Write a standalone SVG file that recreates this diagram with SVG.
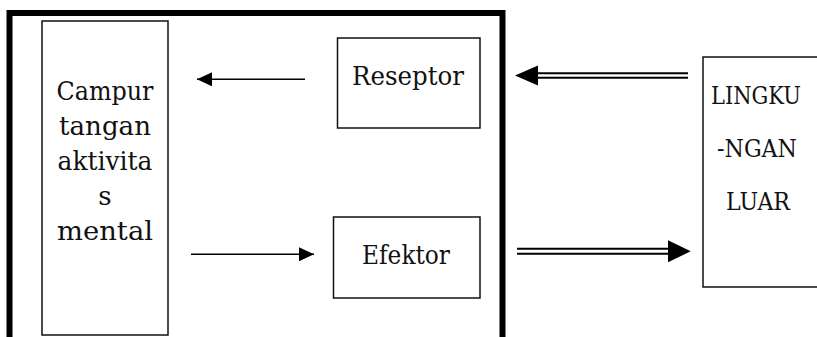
<svg xmlns="http://www.w3.org/2000/svg" width="817" height="337" viewBox="0 0 817 337">
<style>
  .box { fill: #fff; stroke: #111; stroke-width: 1.5; }
  .lbl { font-family: "DejaVu Serif", "Liberation Serif", serif; font-size: 26px; fill: #111; text-anchor: middle; }
  .cap { font-size: 24px; }
  .ln { stroke: #000; stroke-width: 1.5; fill: none; }
  .dl { stroke: #000; stroke-width: 2; fill: none; }
  .head { fill: #000; stroke: none; }
</style>
<defs>
  <marker id="arr" markerUnits="userSpaceOnUse" markerWidth="15" markerHeight="14" refX="15" refY="7" orient="auto">
    <path d="M0,0 L15,7 L0,14 z" fill="#000"/>
  </marker>
</defs>
<rect x="0" y="0" width="817" height="337" fill="#fff"/>
<g id="frame">
  <path d="M9.5,337 V13 H502.5 V337" fill="none" stroke="#000" stroke-width="6"/>
</g>
<g id="mental">
  <rect class="box" x="42" y="21" width="126" height="314"/>
  <text class="lbl" x="105" y="100" textLength="97" lengthAdjust="spacingAndGlyphs">Campur</text>
  <text class="lbl" x="105" y="135" textLength="92" lengthAdjust="spacingAndGlyphs">tangan</text>
  <text class="lbl" x="105" y="170" textLength="95" lengthAdjust="spacingAndGlyphs">aktivita</text>
  <text class="lbl" x="105" y="205">s</text>
  <text class="lbl" x="105" y="240" textLength="96" lengthAdjust="spacingAndGlyphs">mental</text>
</g>
<g id="reseptor">
  <rect class="box" x="337.5" y="38" width="142.5" height="90"/>
  <text class="lbl" x="408" y="84.5" textLength="112" lengthAdjust="spacingAndGlyphs">Reseptor</text>
</g>
<g id="efektor">
  <rect class="box" x="333.5" y="217" width="146.5" height="81"/>
  <text class="lbl" x="406" y="263.5" textLength="88" lengthAdjust="spacingAndGlyphs">Efektor</text>
</g>
<g id="lingkungan">
  <path class="box" d="M817,57 H703 V287 H817"/>
  <text class="lbl cap" x="756" y="104" textLength="90" lengthAdjust="spacingAndGlyphs">LINGKU</text>
  <text class="lbl cap" x="757" y="157" textLength="80" lengthAdjust="spacingAndGlyphs">-NGAN</text>
  <text class="lbl cap" x="758" y="210" textLength="64" lengthAdjust="spacingAndGlyphs">LUAR</text>
</g>
<g id="connectors">
  <line class="ln" x1="305" y1="79.3" x2="197" y2="79.3" marker-end="url(#arr)"/>
  <line class="ln" x1="191" y1="254.3" x2="314" y2="254.3" marker-end="url(#arr)"/>
  <line class="dl" x1="536" y1="73.3" x2="688" y2="73.3"/>
  <line class="dl" x1="536" y1="77.7" x2="688" y2="77.7"/>
  <polygon class="head" points="515,75.5 538,65.5 538,85.5"/>
  <line class="dl" x1="517" y1="248.8" x2="670" y2="248.8"/>
  <line class="dl" x1="517" y1="253.8" x2="670" y2="253.8"/>
  <polygon class="head" points="690.7,251.3 668,240.3 668,262.3"/>
</g>
</svg>
